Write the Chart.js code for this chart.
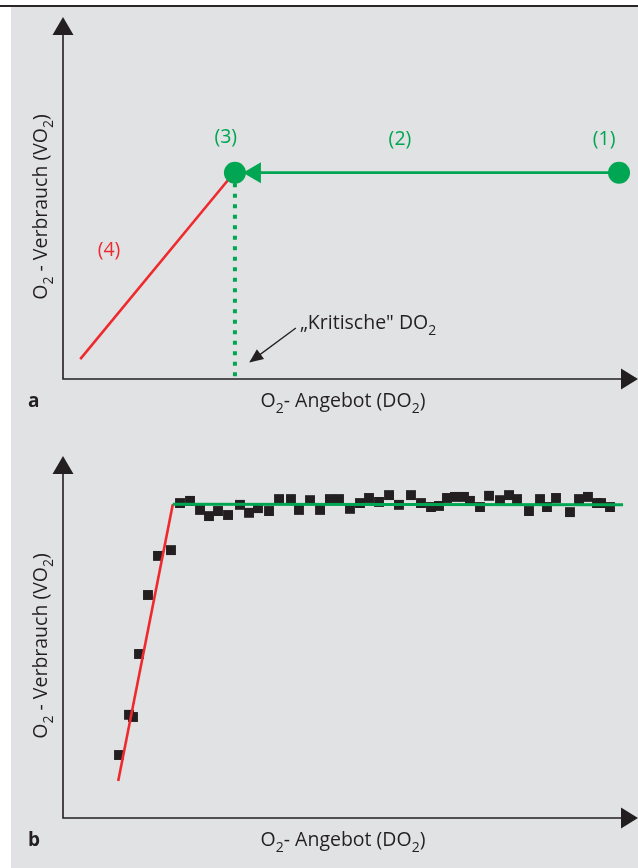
<!DOCTYPE html>
<html>
<head>
<meta charset="utf-8">
<script src="https://cdn.jsdelivr.net/npm/chart.js@4/dist/chart.umd.min.js"></script>
<style>
  html, body { margin: 0; padding: 0; background: #fff; }
  body { width: 638px; height: 868px; position: relative; overflow: hidden; }
  #rule { position: absolute; left: 0; top: 5px; width: 638px; height: 2px; background: #2a2627; }
  #panel { position: absolute; left: 11px; top: 7px; width: 627px; height: 861px; background: #e1e2e4; }
  canvas { position: absolute; left: 0; }
  #chartA { top: 0; }
  #chartB { top: 439px; }
</style>
</head>
<body>
<div id="rule"></div>
<div id="panel"></div>
<canvas id="chartA" width="638" height="429"></canvas>
<canvas id="chartB" width="638" height="429"></canvas>
<script>
// Panel a: Schema (Achsen 0..100, ohne Einheiten)
const redA_x = [3, 29.5];
const redA_y = [5.5, 56.5];
const greenA_x = [96.7, 31.7];
const greenA_y = [57, 57];
const circlesA_x = [96.7, 29.9];
const circlesA_y = [57, 57];
const dottedA_x = [29.9, 29.9];
const dottedA_y = [57, 0.6];
const kritArrow_x = [40.5, 32.6];
const kritArrow_y = [14.1, 4.8];

const labelsA = ["(1)", "(2)", "(3)", "(4)"];
const labelsA_x = [94.1, 58.6, 28.3, 8.0];
const labelsA_y = [66.3, 66.3, 66.6, 35.6];
const kritLabel_x = 41.2;
const kritLabel_y = 13.8;

// Panel b: Messpunkte
const redB_x = [9.6, 19.1];
const redB_y = [10.2, 86.7];
const greenB_x = [19.1, 97.4];
const greenB_y = [86.7, 86.5];
const measX = [9.74, 11.48, 12.17, 13.22, 14.78, 16.52, 18.78,
  20.35, 22.09, 23.83, 25.39, 26.96, 28.70, 30.78, 32.35, 33.91, 35.83,
  37.57, 39.65, 41.04, 42.96, 44.70, 46.43, 48.00, 49.91, 51.65, 53.22,
  54.96, 56.70, 58.43, 60.52, 62.26, 64.00, 65.39, 66.78, 68.17, 69.74,
  70.78, 72.52, 74.09, 76.00, 77.57, 78.96, 81.04, 82.96, 84.17, 85.74,
  88.17, 89.74, 91.30, 92.87, 93.57, 95.13];
const measY = [17.4, 28.5, 27.9, 45.3, 61.6, 72.4, 74.0,
  87.0, 87.6, 85.1, 83.4, 84.8, 83.7, 86.5, 84.3, 85.6, 84.8,
  88.1, 88.1, 85.1, 87.8, 85.1, 88.1, 88.1, 85.4, 87.0, 88.4,
  87.3, 89.2, 86.5, 89.2, 87.0, 85.9, 86.2, 88.4, 88.7, 88.7,
  87.6, 85.9, 89.0, 87.8, 89.2, 88.1, 84.8, 88.1, 85.9, 88.4,
  84.5, 88.1, 88.7, 87.0, 87.0, 85.9];

const GREEN = "#00a651";
const RED = "#ee2a2e";
const INK = "#231f20";
const FONT = "'Open Sans', 'Noto Sans', sans-serif";
const FS = 19.5;

function pts(xs, ys) {
  return xs.map((x, i) => ({ x: x, y: ys[i] }));
}

// Text mit tiefgestellten Teilen: parts = [[text, sub], ...]
function drawRich(ctx, parts, x, y, size, align, weight) {
  const main = (weight || "") + " " + size + "px " + FONT;
  const sub = (size * 0.72).toFixed(1) + "px " + FONT;
  let total = 0;
  const widths = parts.map(([t, s]) => {
    ctx.font = s ? sub : main;
    const w = ctx.measureText(t).width;
    total += w;
    return w;
  });
  let cx = align === "center" ? x - total / 2 : align === "right" ? x - total : x;
  ctx.textAlign = "left";
  ctx.textBaseline = "alphabetic";
  parts.forEach(([t, s], i) => {
    ctx.font = s ? sub : main;
    ctx.fillText(t, cx, s ? y + size * 0.3 : y);
    cx += widths[i];
  });
}

function arrowHead(ctx, tipX, tipY, ang, len, half) {
  ctx.beginPath();
  ctx.moveTo(tipX, tipY);
  ctx.lineTo(tipX - len * Math.cos(ang) - half * Math.sin(ang), tipY - len * Math.sin(ang) + half * Math.cos(ang));
  ctx.lineTo(tipX - len * Math.cos(ang) + half * Math.sin(ang), tipY - len * Math.sin(ang) - half * Math.cos(ang));
  ctx.closePath();
  ctx.fill();
}

const decorPlugin = {
  id: "decor",
  beforeDatasetsDraw(chart) {
    // Achsen mit Pfeilspitzen
    const { ctx, chartArea: a } = chart;
    ctx.save();
    ctx.strokeStyle = INK;
    ctx.fillStyle = INK;
    ctx.lineWidth = 1.6;
    ctx.beginPath();
    ctx.moveTo(a.left, a.top + 16);
    ctx.lineTo(a.left, a.bottom);
    ctx.lineTo(a.right - 15, a.bottom);
    ctx.stroke();
    arrowHead(ctx, a.left, a.top, -Math.PI / 2, 18, 10.5);
    arrowHead(ctx, a.right, a.bottom, 0, 17, 10.5);
    ctx.restore();
  },
  afterDatasetsDraw(chart) {
    const ctx = chart.ctx;
    chart.data.datasets.forEach((ds, i) => {
      if (!ds.arrowHead) return;
      const d = chart.getDatasetMeta(i).data;
      const p = d[d.length - 2], q = d[d.length - 1];
      const ang = Math.atan2(q.y - p.y, q.x - p.x);
      const [len, half] = ds.arrowHead;
      const ext = (ds.borderWidth / 2) * len / half;
      ctx.save();
      ctx.fillStyle = ds.borderColor;
      arrowHead(ctx, q.x + ext * Math.cos(ang), q.y + ext * Math.sin(ang), ang, len, half);
      ctx.restore();
    });
  },
  afterDraw(chart, args, opts) {
    const { ctx, chartArea: a, scales } = chart;
    ctx.save();
    ctx.fillStyle = INK;
    // Buchstabe a / b
    ctx.font = "bold 19px " + FONT;
    ctx.textAlign = "left";
    ctx.textBaseline = "alphabetic";
    ctx.fillText(opts.letter, 28, a.bottom + 28);
    // x-Achsentitel
    drawRich(ctx, [["O", 0], ["2", 1], ["- Angebot (DO", 0], ["2", 1], [")", 0]], 343, a.bottom + 28, FS, "center");
    // y-Achsentitel
    ctx.save();
    ctx.translate(47, (a.top + a.bottom) / 2 + 9);
    ctx.rotate(-Math.PI / 2);
    drawRich(ctx, [["O", 0], ["2", 1], [" - Verbrauch (VO", 0], ["2", 1], [")", 0]], 0, 0, FS, "center");
    ctx.restore();
    // Beschriftungen im Diagramm
    (opts.labels || []).forEach(l => {
      ctx.fillStyle = l.color;
      ctx.font = FS + "px " + FONT;
      ctx.textAlign = "center";
      ctx.textBaseline = "middle";
      ctx.fillText(l.text, scales.x.getPixelForValue(l.x), scales.y.getPixelForValue(l.y));
    });
    if (opts.krit) {
      ctx.fillStyle = INK;
      drawRich(ctx, [["\u201EKritische\" DO", 0], ["2", 1]],
        scales.x.getPixelForValue(opts.krit.x), scales.y.getPixelForValue(opts.krit.y), FS, "left");
    }
    ctx.restore();
  }
};

function makeChart(id, datasets, decor) {
  return new Chart(document.getElementById(id), {
    type: "scatter",
    data: { datasets: datasets },
    options: {
      responsive: false,
      animation: false,
      events: [],
      layout: { autoPadding: false, padding: { left: 63, top: 17, right: 0, bottom: 50 } },
      scales: {
        x: { type: "linear", min: 0, max: 100, display: false },
        y: { type: "linear", min: 0, max: 100, display: false }
      },
      plugins: { legend: { display: false }, tooltip: { enabled: false }, decor: decor }
    },
    plugins: [decorPlugin]
  });
}

const lineDefaults = { showLine: true, pointRadius: 0, clip: false, borderCapStyle: "butt" };

makeChart("chartA", [
  { data: pts(circlesA_x, circlesA_y), pointRadius: 11, pointBackgroundColor: GREEN, pointBorderWidth: 0, showLine: false, clip: false, order: 0 },
  Object.assign({ data: pts(greenA_x, greenA_y), borderColor: GREEN, borderWidth: 2.7, arrowHead: [18, 10.5], order: 1 }, lineDefaults),
  Object.assign({ data: pts(redA_x, redA_y), borderColor: RED, borderWidth: 2.6, order: 2 }, lineDefaults),
  Object.assign({ data: pts(dottedA_x, dottedA_y), borderColor: GREEN, borderWidth: 4, borderDash: [4, 6.5], order: 3 }, lineDefaults),
  Object.assign({ data: pts(kritArrow_x, kritArrow_y), borderColor: INK, borderWidth: 1.3, arrowHead: [14, 6], order: 4 }, lineDefaults)
], {
  letter: "a",
  labels: labelsA.map((t, i) => ({ text: t, x: labelsA_x[i], y: labelsA_y[i], color: i === 3 ? RED : GREEN })),
  krit: { x: kritLabel_x, y: kritLabel_y }
});

makeChart("chartB", [
  Object.assign({ data: pts(greenB_x, greenB_y), borderColor: GREEN, borderWidth: 3, order: 0 }, lineDefaults),
  Object.assign({ data: pts(redB_x, redB_y), borderColor: RED, borderWidth: 2.6, order: 1 }, lineDefaults),
  { data: pts(measX, measY), pointStyle: "rect", pointRadius: 7, pointBackgroundColor: INK, pointBorderWidth: 0, showLine: false, clip: false, order: 2 }
], { letter: "b" });
</script>
</body>
</html>
